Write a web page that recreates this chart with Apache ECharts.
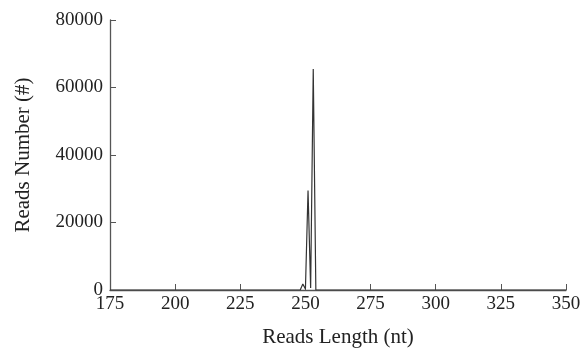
<!DOCTYPE html>
<html><head><meta charset="utf-8">
<script src="https://cdn.jsdelivr.net/npm/echarts@6/dist/echarts.min.js"></script>
<style>html,body{margin:0;padding:0;background:#fff}#c{width:582px;height:351px}</style>
</head><body><div id="c"></div>
<script>
var lengths = [175, 247, 248, 249, 250, 251, 252, 253, 254, 255, 350];
var counts  = [0, 0, 0, 1800, 300, 29500, 600, 65500, 0, 0, 0];
var xTicks = [175, 200, 225, 250, 275, 300, 325, 350];
var yTicks = [0, 20000, 40000, 60000, 80000];

var font = 'Liberation Serif';
var data = lengths.map(function (l, i) { return [l, counts[i]]; });
var chart = echarts.init(document.getElementById('c'), null, {renderer: 'canvas'});
chart.setOption({
  animation: false,
  grid: {left: 110, right: 16, top: 20, bottom: 61, containLabel: false, outerBoundsMode: 'none'},
  xAxis: {
    type: 'value', min: xTicks[0], max: xTicks[xTicks.length - 1], interval: 25,
    name: 'Reads Length (nt)', nameLocation: 'middle', nameGap: 37,
    nameTextStyle: {fontFamily: font, fontSize: 21, color: '#222'},
    axisLine: {lineStyle: {color: '#555', width: 1.3}},
    axisTick: {inside: true, length: 6, lineStyle: {color: '#555'}},
    axisLabel: {fontFamily: font, fontSize: 19, color: '#222', margin: 5,
      formatter: function (v) { return String(v); }},
    splitLine: {show: false}
  },
  yAxis: {
    type: 'value', min: yTicks[0], max: yTicks[yTicks.length - 1], interval: 20000,
    name: 'Reads Number (#)', nameLocation: 'middle', nameGap: 76,
    nameTextStyle: {fontFamily: font, fontSize: 21, color: '#222'},
    axisLine: {show: true, lineStyle: {color: '#555', width: 1.3}},
    axisTick: {show: true, inside: true, length: 6, lineStyle: {color: '#555'}},
    axisLabel: {fontFamily: font, fontSize: 19, color: '#222', margin: 7,
      formatter: function (v) { return String(v); }},
    splitLine: {show: false}
  },
  series: [{
    type: 'line', data: data, showSymbol: false, symbol: 'none',
    lineStyle: {color: '#333', width: 1.2}
  }]
});
</script></body></html>
